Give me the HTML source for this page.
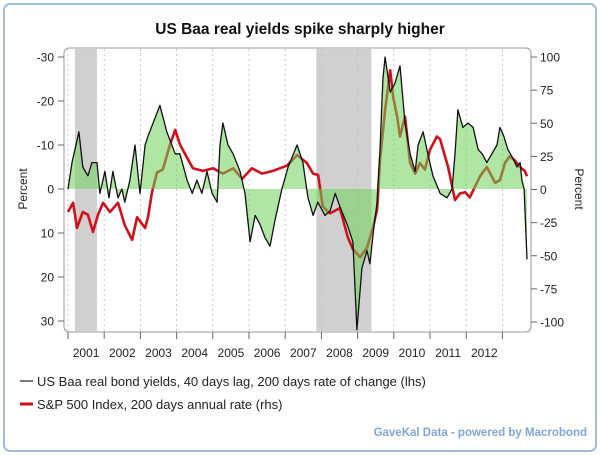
<!DOCTYPE html>
<html><head><meta charset="utf-8"><style>
body{margin:0;background:#fff;font-family:"Liberation Sans",sans-serif}
svg{display:block}
</style></head><body>
<svg width="600" height="455" viewBox="0 0 600 455" id="c">
<rect x="4" y="4" width="592" height="447" rx="6" fill="#fff" stroke="#9dbde3" stroke-width="2"/>
<text x="300" y="34" text-anchor="middle" font-size="15.5" font-weight="bold" fill="#111">US Baa real yields spike sharply higher</text>
<g id="plot"></g>
<text transform="translate(27,189) rotate(-90)" text-anchor="middle" font-size="12" fill="#222">Percent</text>
<text transform="translate(575,189) rotate(90)" text-anchor="middle" font-size="12" fill="#222">Percent</text>
<line x1="20" y1="381" x2="33" y2="381" stroke="#222" stroke-width="1.2"/>
<text x="37" y="386" font-size="13" fill="#222">US Baa real bond yields, 40 days lag, 200 days rate of change (lhs)</text>
<line x1="20" y1="404" x2="33" y2="404" stroke="#d0101a" stroke-width="3"/>
<text x="37" y="409" font-size="13" fill="#222">S&amp;P 500 Index, 200 days annual rate (rhs)</text>
<text x="587" y="436" text-anchor="end" font-size="11.5" font-weight="bold" fill="#7fa6d8">GaveKal Data - powered by Macrobond</text>
</svg>
<script>
const baaDates=[2001.00,2001.11,2001.30,2001.41,2001.55,2001.66,2001.80,2001.88,2002.02,2002.13,2002.24,2002.38,2002.49,2002.57,2002.71,2002.85,2002.99,2003.13,2003.21,2003.35,2003.54,2003.73,2003.96,2004.09,2004.29,2004.43,2004.56,2004.70,2004.84,2004.98,2005.12,2005.20,2005.28,2005.42,2005.56,2005.75,2005.89,2006.03,2006.17,2006.30,2006.44,2006.58,2006.72,2006.91,2007.08,2007.33,2007.49,2007.63,2007.77,2007.90,2008.10,2008.24,2008.38,2008.51,2008.71,2008.87,2008.98,2009.12,2009.26,2009.34,2009.43,2009.54,2009.62,2009.70,2009.76,2009.90,2010.03,2010.17,2010.31,2010.45,2010.59,2010.67,2010.81,2010.94,2011.08,2011.28,2011.47,2011.61,2011.69,2011.77,2011.91,2012.05,2012.19,2012.33,2012.44,2012.57,2012.71,2012.85,2012.93,2013.04,2013.15,2013.29,2013.40,2013.49,2013.54,2013.60,2013.68];
const baaValues=[0,-6,-13,-5,-3,-6,-6,1,-4,2,-4,2,0,3,-2,-10,1,-10,-12,-15,-19,-13,-8,-8,-2,1,-2,1,-4,1,3,-10,-15,-10,-8,-4,1,12,6,8,11,13,7,0,-5,-10,-6,2,6,3,6,5,1,4,8,12,32,18,14,17,10,3,-9,-25,-30,-22,-24,-28,-15,-8,-4,-10,-13,-8,-3,1,2,0,-8,-18,-14,-15,-14,-9,-8,-6,-8,-10,-14,-12,-9,-7,-5,-6,-2,0,16];
const spDates=[2001.00,2001.14,2001.25,2001.41,2001.55,2001.69,2001.83,2001.97,2002.16,2002.38,2002.57,2002.77,2002.91,2003.13,2003.21,2003.32,2003.46,2003.62,2003.82,2003.96,2004.09,2004.29,2004.45,2004.73,2005.01,2005.28,2005.56,2005.81,2006.08,2006.36,2006.66,2007.05,2007.33,2007.60,2007.77,2007.91,2008.04,2008.24,2008.51,2008.73,2008.87,2009.07,2009.26,2009.43,2009.54,2009.62,2009.76,2009.90,2009.98,2010.09,2010.17,2010.31,2010.45,2010.59,2010.72,2010.86,2011.00,2011.19,2011.28,2011.50,2011.69,2011.83,2011.97,2012.10,2012.24,2012.38,2012.57,2012.80,2012.93,2013.07,2013.20,2013.34,2013.48,2013.62,2013.68];
const spValues=[-17,-10,-29,-17,-19,-32,-19,-10,-17,-10,-27,-38,-21,-29,-21,-2,13,15,34,45,34,24,16,14,16,12,16,8,16,12,14,18,26,20,12,11,-13,-18,-14,-36,-45,-51,-44,-28,-15,22,60,90,70,55,40,55,20,12,20,15,30,40,38,17,-8,-3,-2,-6,2,10,17,5,7,20,25,22,17,14,10];
const yearLabels=["2001","2002","2003","2004","2005","2006","2007","2008","2009","2010","2011","2012"];
const leftTicks=[-30,-20,-10,0,10,20,30];
const rightTicks=[100,75,50,25,0,-25,-50,-75,-100];
const recessions=[[2001.19,2001.80],[2007.86,2009.38]];

const NS="http://www.w3.org/2000/svg";
const X=t=>68+(t-2001)*36.2;
const YL=v=>189+v*4.4;
const YR=v=>189.5-v*1.325;
const g=document.getElementById('plot');
function mk(tag,attrs){const e=document.createElementNS(NS,tag);for(const k in attrs)e.setAttribute(k,attrs[k]);g.appendChild(e);return e;}

const frame=mk('rect',{x:64,y:48,width:467,height:284,rx:5,fill:'#fff',stroke:'#999','stroke-width':1});


recessions.forEach(r=>{
  const e=mk('rect',{x:X(r[0]),y:49,width:X(r[1])-X(r[0]),height:282,fill:'#d0d0d0'});
  
  
});
for(let i=0;i<=yearLabels.length;i++){
  const x=X(2001+i);
  const gl=mk('line',{x1:x,y1:49,x2:x,y2:331,stroke:'#bbb','stroke-dasharray':'2,3','stroke-width':0.8});
  
  
  const tk=mk('line',{x1:x,y1:332,x2:x,y2:339,stroke:'#666'});
  
  
}
yearLabels.forEach((s,i)=>{
  const t=mk('text',{x:X(2001.5+i),y:357,'text-anchor':'middle','font-size':12,fill:'#222'});
  t.textContent=s;
  
  
});
leftTicks.forEach(v=>{
  const y=YL(v);
  const l=mk('line',{x1:58,y1:y,x2:64,y2:y,stroke:'#666'});
  
  
  const t=mk('text',{x:54,y:y+4.5,'text-anchor':'end','font-size':12,fill:'#222'});
  t.textContent=String(v);
  
  
});
rightTicks.forEach(v=>{
  const y=YR(v);
  const l=mk('line',{x1:531,y1:y,x2:537,y2:y,stroke:'#666'});
  
  
  const t=mk('text',{x:540,y:y+4.5,'font-size':12,fill:'#222'});
  t.textContent=String(v);
  
  
});
// red series
let dR=spDates.map((t,i)=>(i?'L':'M')+X(t).toFixed(1)+','+YR(spValues[i]).toFixed(1)).join('');
const red=mk('path',{d:dR,fill:'none',stroke:'#d0101a','stroke-width':2.6,'stroke-linejoin':'round'});


// green fill
let dB=baaDates.map((t,i)=>(i?'L':'M')+X(t).toFixed(1)+','+YL(baaValues[i]).toFixed(1)).join('');
const fillD=dB+'L'+X(baaDates[baaDates.length-1]).toFixed(1)+','+YL(0)+'L'+X(baaDates[0]).toFixed(1)+','+YL(0)+'Z';
const fa=mk('path',{d:fillD,fill:'rgba(110,210,90,0.55)',stroke:'none'});


const blk=mk('path',{d:dB,fill:'none',stroke:'#111','stroke-width':1.3,'stroke-linejoin':'round'});


</script>
</body></html>
